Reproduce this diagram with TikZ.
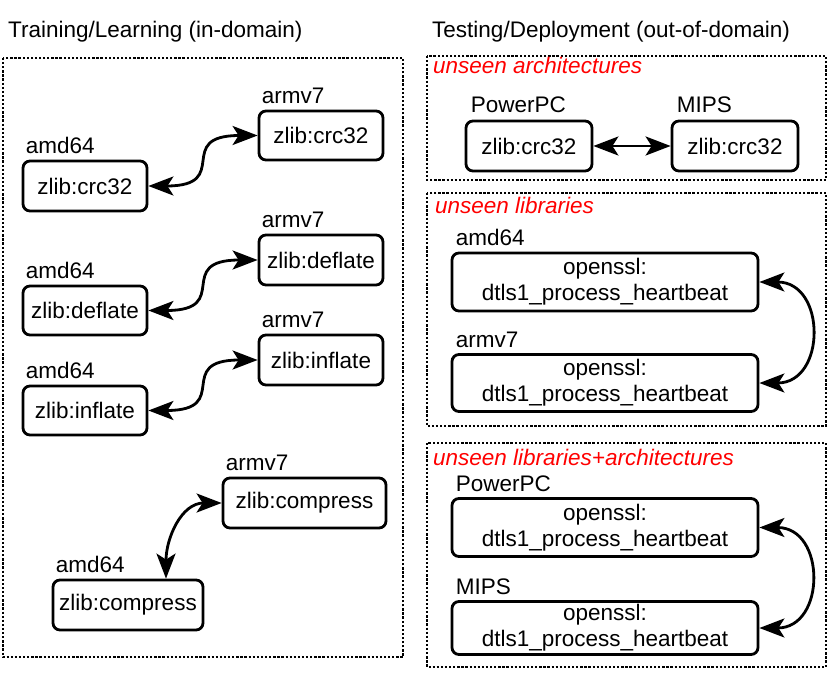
\documentclass[tikz,border=0pt]{standalone}
\usepackage{fontspec}
\setmainfont{Liberation Sans}
\usetikzlibrary{arrows.meta}
\begin{document}
\begin{tikzpicture}[x=1pt,y=1pt,
  txt/.style={font=\fontsize{22.5}{26}\selectfont},
  box/.style={txt, draw, line width=2.8pt, rounded corners=7pt, inner sep=0pt, align=center},
  lbl/.style={txt, anchor=base west, inner sep=0pt},
  redlbl/.style={lbl, text=red, font=\fontsize{22.5}{26}\selectfont\itshape},
  frame/.style={draw, line width=2.6pt, dash pattern=on 2.3pt off 1.8pt},
  conn/.style={line width=2.8pt, {Stealth[length=25pt,width=19pt,inset=6pt]}-{Stealth[length=25pt,width=19pt,inset=6pt]}}
]
\useasboundingbox (0,0) rectangle (830,-679);

% titles
\node[lbl] (t1) at (8,-38) {Training/Learning (in-domain)};
\node[lbl] (t2) at (432,-38) {Testing/Deployment (out-of-domain)};

% frames
\draw[frame] (3,-58) rectangle (403,-657);
\draw[frame] (427,-56) rectangle (826,-180);
\draw[frame] (427,-193) rectangle (826,-426);
\draw[frame] (427,-443) rectangle (826,-667);

% left column
\node[box, minimum width=124pt, minimum height=50pt] (A1) at (85,-186) {zlib:crc32};
\node[box, minimum width=124pt, minimum height=49pt] (B1) at (321,-135.5) {zlib:crc32};
\node[box, minimum width=124pt, minimum height=49pt] (A2) at (85,-310.5) {zlib:deflate};
\node[box, minimum width=124pt, minimum height=50pt] (B2) at (321,-260) {zlib:deflate};
\node[box, minimum width=124pt, minimum height=49pt] (A3) at (85,-410.5) {zlib:inflate};
\node[box, minimum width=124pt, minimum height=50pt] (B3) at (321,-360) {zlib:inflate};
\node[box, minimum width=150pt, minimum height=50pt] (A4) at (128,-605) {zlib:compress};
\node[box, minimum width=163pt, minimum height=50pt] (B4) at (304.5,-503) {zlib:compress};

\foreach \n/\t in {A1/amd64,B1/armv7,A2/amd64,B2/armv7,A3/amd64,B3/armv7,A4/amd64,B4/armv7}
  \node[lbl] (\n l) at ([xshift=4pt,yshift=6pt]\n.north west) {\t};

\draw[conn] (A1.east) to[out=0,in=180,looseness=1.8] (B1.west);
\draw[conn] (A2.east) to[out=0,in=180,looseness=1.8] (B2.west);
\draw[conn] (A3.east) to[out=0,in=180,looseness=1.8] (B3.west);
\coordinate (A4t) at ([xshift=38pt]A4.north);
\draw[conn] (A4t) to[out=90,in=180,looseness=1.1] (B4.west);

% right: unseen architectures
\node[redlbl] (r1) at (433,-74) {unseen architectures};
\node[box, minimum width=126pt, minimum height=50pt] (P) at (529,-146) {zlib:crc32};
\node[box, minimum width=126pt, minimum height=50pt] (M) at (735,-146) {zlib:crc32};
\node[lbl] (Pl) at ([xshift=6pt,yshift=7pt]P.north west) {PowerPC};
\node[lbl] (Ml) at ([xshift=6pt,yshift=7pt]M.north west) {MIPS};
\draw[conn] (P.east) -- (M.west);

% right: unseen libraries
\node[redlbl] (r2) at (435,-214) {unseen libraries};
\node[box, minimum width=306pt, minimum height=58pt] (C1) at (605,-282) {openssl:\\dtls1\_process\_heartbeat};
\node[box, minimum width=306pt, minimum height=57pt] (C2) at (605,-383) {openssl:\\dtls1\_process\_heartbeat};
\node[lbl] (C1l) at ([xshift=5pt,yshift=6pt]C1.north west) {amd64};
\node[lbl] (C2l) at ([xshift=5pt,yshift=6pt]C2.north west) {armv7};
\draw[conn] (C1.east) to[out=0,in=0,looseness=1.7] (C2.east);

% right: unseen libraries+architectures
\node[redlbl] (r3) at (433,-465) {unseen libraries+architectures};
\node[box, minimum width=306pt, minimum height=58pt] (D1) at (605,-527.5) {openssl:\\dtls1\_process\_heartbeat};
\node[box, minimum width=306pt, minimum height=53pt] (D2) at (605,-628) {openssl:\\dtls1\_process\_heartbeat};
\node[lbl] (D1l) at ([xshift=5pt,yshift=6pt]D1.north west) {PowerPC};
\node[lbl] (D2l) at ([xshift=5pt,yshift=6pt]D2.north west) {MIPS};
\draw[conn] (D1.east) to[out=0,in=0,looseness=1.7] (D2.east);
\end{tikzpicture}
\end{document}
